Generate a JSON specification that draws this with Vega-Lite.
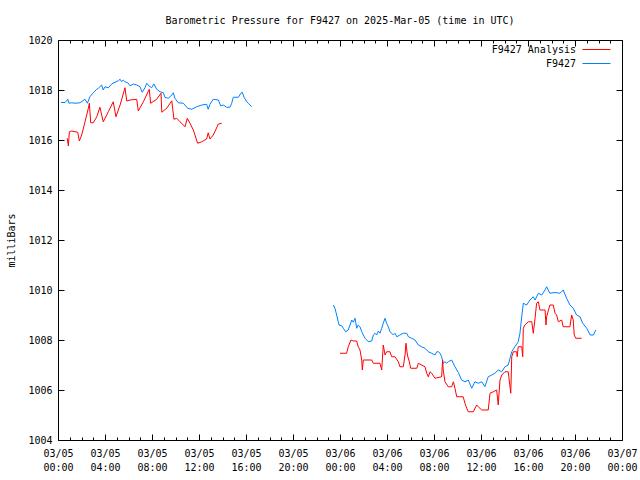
{
"$schema":"https://vega.github.io/schema/vega-lite/v6.json",
"autosize":{"type":"none"},
"width":564,"height":400,
"padding":{"left":58,"top":40,"right":18,"bottom":40},
"background":"white",
"config":{"view":{"stroke":"black","strokeWidth":1},"font":"DejaVu Sans Mono","axis":{"grid":false,"domain":false,"labelFont":"DejaVu Sans Mono","labelFontSize":10,"labelColor":"black","tickColor":"black","tickOpacity":1,"tickWidth":1,"titleFont":"DejaVu Sans Mono","titleFontSize":10,"titleFontWeight":"normal","titleColor":"black"}},
"title":{"text":"Barometric Pressure for F9427 on 2025-Mar-05 (time in UTC)","font":"DejaVu Sans Mono","fontSize":10,"fontWeight":"normal","color":"black","anchor":"middle","offset":9},
"data":{"values":[
{"t":"2025-03-05T00:15Z","p":1017.5,"s":"F9427","g":"a"},
{"t":"2025-03-05T00:36Z","p":1017.5,"s":"F9427","g":"a"},
{"t":"2025-03-05T00:50Z","p":1017.63,"s":"F9427","g":"a"},
{"t":"2025-03-05T00:56Z","p":1017.47,"s":"F9427","g":"a"},
{"t":"2025-03-05T01:10Z","p":1017.49,"s":"F9427","g":"a"},
{"t":"2025-03-05T01:27Z","p":1017.47,"s":"F9427","g":"a"},
{"t":"2025-03-05T01:52Z","p":1017.49,"s":"F9427","g":"a"},
{"t":"2025-03-05T02:18Z","p":1017.63,"s":"F9427","g":"a"},
{"t":"2025-03-05T02:30Z","p":1017.47,"s":"F9427","g":"a"},
{"t":"2025-03-05T02:43Z","p":1017.73,"s":"F9427","g":"a"},
{"t":"2025-03-05T03:00Z","p":1017.89,"s":"F9427","g":"a"},
{"t":"2025-03-05T03:18Z","p":1018.03,"s":"F9427","g":"a"},
{"t":"2025-03-05T03:26Z","p":1018.07,"s":"F9427","g":"a"},
{"t":"2025-03-05T03:43Z","p":1018.2,"s":"F9427","g":"a"},
{"t":"2025-03-05T03:51Z","p":1018.0,"s":"F9427","g":"a"},
{"t":"2025-03-05T04:00Z","p":1018.13,"s":"F9427","g":"a"},
{"t":"2025-03-05T04:17Z","p":1018.09,"s":"F9427","g":"a"},
{"t":"2025-03-05T04:34Z","p":1018.24,"s":"F9427","g":"a"},
{"t":"2025-03-05T04:51Z","p":1018.31,"s":"F9427","g":"a"},
{"t":"2025-03-05T05:08Z","p":1018.37,"s":"F9427","g":"a"},
{"t":"2025-03-05T05:17Z","p":1018.43,"s":"F9427","g":"a"},
{"t":"2025-03-05T05:25Z","p":1018.33,"s":"F9427","g":"a"},
{"t":"2025-03-05T05:33Z","p":1018.4,"s":"F9427","g":"a"},
{"t":"2025-03-05T05:42Z","p":1018.33,"s":"F9427","g":"a"},
{"t":"2025-03-05T05:56Z","p":1018.29,"s":"F9427","g":"a"},
{"t":"2025-03-05T06:08Z","p":1018.17,"s":"F9427","g":"a"},
{"t":"2025-03-05T06:25Z","p":1018.24,"s":"F9427","g":"a"},
{"t":"2025-03-05T06:42Z","p":1018.2,"s":"F9427","g":"a"},
{"t":"2025-03-05T06:59Z","p":1018.13,"s":"F9427","g":"a"},
{"t":"2025-03-05T07:10Z","p":1017.91,"s":"F9427","g":"a"},
{"t":"2025-03-05T07:24Z","p":1018.09,"s":"F9427","g":"a"},
{"t":"2025-03-05T07:33Z","p":1018.27,"s":"F9427","g":"a"},
{"t":"2025-03-05T07:45Z","p":1018.16,"s":"F9427","g":"a"},
{"t":"2025-03-05T07:58Z","p":1018.09,"s":"F9427","g":"a"},
{"t":"2025-03-05T08:10Z","p":1018.24,"s":"F9427","g":"a"},
{"t":"2025-03-05T08:24Z","p":1018.03,"s":"F9427","g":"a"},
{"t":"2025-03-05T08:41Z","p":1017.93,"s":"F9427","g":"a"},
{"t":"2025-03-05T08:58Z","p":1017.89,"s":"F9427","g":"a"},
{"t":"2025-03-05T09:06Z","p":1017.71,"s":"F9427","g":"a"},
{"t":"2025-03-05T09:23Z","p":1017.67,"s":"F9427","g":"a"},
{"t":"2025-03-05T09:32Z","p":1017.73,"s":"F9427","g":"a"},
{"t":"2025-03-05T09:41Z","p":1017.8,"s":"F9427","g":"a"},
{"t":"2025-03-05T09:49Z","p":1017.89,"s":"F9427","g":"a"},
{"t":"2025-03-05T09:57Z","p":1017.67,"s":"F9427","g":"a"},
{"t":"2025-03-05T10:14Z","p":1017.49,"s":"F9427","g":"a"},
{"t":"2025-03-05T10:40Z","p":1017.47,"s":"F9427","g":"a"},
{"t":"2025-03-05T11:02Z","p":1017.27,"s":"F9427","g":"a"},
{"t":"2025-03-05T11:23Z","p":1017.23,"s":"F9427","g":"a"},
{"t":"2025-03-05T11:48Z","p":1017.33,"s":"F9427","g":"a"},
{"t":"2025-03-05T12:14Z","p":1017.4,"s":"F9427","g":"a"},
{"t":"2025-03-05T12:39Z","p":1017.43,"s":"F9427","g":"a"},
{"t":"2025-03-05T12:47Z","p":1017.23,"s":"F9427","g":"a"},
{"t":"2025-03-05T12:56Z","p":1017.43,"s":"F9427","g":"a"},
{"t":"2025-03-05T13:13Z","p":1017.63,"s":"F9427","g":"a"},
{"t":"2025-03-05T13:39Z","p":1017.6,"s":"F9427","g":"a"},
{"t":"2025-03-05T13:51Z","p":1017.36,"s":"F9427","g":"a"},
{"t":"2025-03-05T14:04Z","p":1017.4,"s":"F9427","g":"a"},
{"t":"2025-03-05T14:21Z","p":1017.31,"s":"F9427","g":"a"},
{"t":"2025-03-05T14:38Z","p":1017.31,"s":"F9427","g":"a"},
{"t":"2025-03-05T14:47Z","p":1017.47,"s":"F9427","g":"a"},
{"t":"2025-03-05T14:55Z","p":1017.71,"s":"F9427","g":"a"},
{"t":"2025-03-05T15:21Z","p":1017.71,"s":"F9427","g":"a"},
{"t":"2025-03-05T15:34Z","p":1017.87,"s":"F9427","g":"a"},
{"t":"2025-03-05T15:41Z","p":1017.91,"s":"F9427","g":"a"},
{"t":"2025-03-05T15:50Z","p":1017.71,"s":"F9427","g":"a"},
{"t":"2025-03-05T16:04Z","p":1017.53,"s":"F9427","g":"a"},
{"t":"2025-03-05T16:12Z","p":1017.47,"s":"F9427","g":"a"},
{"t":"2025-03-05T16:29Z","p":1017.33,"s":"F9427","g":"a"},
{"t":"2025-03-05T00:47Z","p":1016.07,"s":"F9427 Analysis","g":"a"},
{"t":"2025-03-05T00:53Z","p":1015.76,"s":"F9427 Analysis","g":"a"},
{"t":"2025-03-05T00:58Z","p":1016.33,"s":"F9427 Analysis","g":"a"},
{"t":"2025-03-05T01:10Z","p":1016.36,"s":"F9427 Analysis","g":"a"},
{"t":"2025-03-05T01:27Z","p":1016.33,"s":"F9427 Analysis","g":"a"},
{"t":"2025-03-05T01:41Z","p":1016.31,"s":"F9427 Analysis","g":"a"},
{"t":"2025-03-05T01:49Z","p":1015.96,"s":"F9427 Analysis","g":"a"},
{"t":"2025-03-05T02:01Z","p":1016.2,"s":"F9427 Analysis","g":"a"},
{"t":"2025-03-05T02:18Z","p":1016.73,"s":"F9427 Analysis","g":"a"},
{"t":"2025-03-05T02:35Z","p":1017.27,"s":"F9427 Analysis","g":"a"},
{"t":"2025-03-05T02:40Z","p":1017.47,"s":"F9427 Analysis","g":"a"},
{"t":"2025-03-05T02:47Z","p":1016.69,"s":"F9427 Analysis","g":"a"},
{"t":"2025-03-05T03:00Z","p":1016.69,"s":"F9427 Analysis","g":"a"},
{"t":"2025-03-05T03:18Z","p":1016.93,"s":"F9427 Analysis","g":"a"},
{"t":"2025-03-05T03:34Z","p":1017.31,"s":"F9427 Analysis","g":"a"},
{"t":"2025-03-05T03:51Z","p":1016.73,"s":"F9427 Analysis","g":"a"},
{"t":"2025-03-05T04:17Z","p":1017.13,"s":"F9427 Analysis","g":"a"},
{"t":"2025-03-05T04:42Z","p":1017.53,"s":"F9427 Analysis","g":"a"},
{"t":"2025-03-05T04:56Z","p":1016.93,"s":"F9427 Analysis","g":"a"},
{"t":"2025-03-05T05:17Z","p":1017.4,"s":"F9427 Analysis","g":"a"},
{"t":"2025-03-05T05:42Z","p":1018.09,"s":"F9427 Analysis","g":"a"},
{"t":"2025-03-05T05:51Z","p":1017.56,"s":"F9427 Analysis","g":"a"},
{"t":"2025-03-05T06:08Z","p":1017.6,"s":"F9427 Analysis","g":"a"},
{"t":"2025-03-05T06:42Z","p":1017.63,"s":"F9427 Analysis","g":"a"},
{"t":"2025-03-05T06:50Z","p":1017.16,"s":"F9427 Analysis","g":"a"},
{"t":"2025-03-05T07:16Z","p":1017.53,"s":"F9427 Analysis","g":"a"},
{"t":"2025-03-05T07:46Z","p":1018.03,"s":"F9427 Analysis","g":"a"},
{"t":"2025-03-05T07:53Z","p":1017.47,"s":"F9427 Analysis","g":"a"},
{"t":"2025-03-05T08:24Z","p":1017.63,"s":"F9427 Analysis","g":"a"},
{"t":"2025-03-05T08:46Z","p":1017.87,"s":"F9427 Analysis","g":"a"},
{"t":"2025-03-05T08:50Z","p":1017.11,"s":"F9427 Analysis","g":"a"},
{"t":"2025-03-05T09:15Z","p":1017.27,"s":"F9427 Analysis","g":"a"},
{"t":"2025-03-05T09:41Z","p":1017.57,"s":"F9427 Analysis","g":"a"},
{"t":"2025-03-05T09:52Z","p":1016.83,"s":"F9427 Analysis","g":"a"},
{"t":"2025-03-05T10:06Z","p":1016.87,"s":"F9427 Analysis","g":"a"},
{"t":"2025-03-05T10:23Z","p":1016.73,"s":"F9427 Analysis","g":"a"},
{"t":"2025-03-05T10:49Z","p":1016.53,"s":"F9427 Analysis","g":"a"},
{"t":"2025-03-05T11:00Z","p":1016.87,"s":"F9427 Analysis","g":"a"},
{"t":"2025-03-05T11:14Z","p":1016.67,"s":"F9427 Analysis","g":"a"},
{"t":"2025-03-05T11:31Z","p":1016.4,"s":"F9427 Analysis","g":"a"},
{"t":"2025-03-05T11:53Z","p":1015.87,"s":"F9427 Analysis","g":"a"},
{"t":"2025-03-05T12:14Z","p":1015.93,"s":"F9427 Analysis","g":"a"},
{"t":"2025-03-05T12:39Z","p":1016.04,"s":"F9427 Analysis","g":"a"},
{"t":"2025-03-05T12:47Z","p":1016.29,"s":"F9427 Analysis","g":"a"},
{"t":"2025-03-05T12:56Z","p":1016.04,"s":"F9427 Analysis","g":"a"},
{"t":"2025-03-05T13:13Z","p":1016.2,"s":"F9427 Analysis","g":"a"},
{"t":"2025-03-05T13:39Z","p":1016.64,"s":"F9427 Analysis","g":"a"},
{"t":"2025-03-05T13:56Z","p":1016.67,"s":"F9427 Analysis","g":"a"},
{"t":"2025-03-05T23:26Z","p":1009.4,"s":"F9427","g":"b"},
{"t":"2025-03-05T23:34Z","p":1009.27,"s":"F9427","g":"b"},
{"t":"2025-03-05T23:43Z","p":1009.0,"s":"F9427","g":"b"},
{"t":"2025-03-05T23:51Z","p":1008.73,"s":"F9427","g":"b"},
{"t":"2025-03-05T23:55Z","p":1008.6,"s":"F9427","g":"b"},
{"t":"2025-03-06T00:09Z","p":1008.57,"s":"F9427","g":"b"},
{"t":"2025-03-06T00:17Z","p":1008.47,"s":"F9427","g":"b"},
{"t":"2025-03-06T00:29Z","p":1008.33,"s":"F9427","g":"b"},
{"t":"2025-03-06T00:42Z","p":1008.4,"s":"F9427","g":"b"},
{"t":"2025-03-06T00:51Z","p":1008.6,"s":"F9427","g":"b"},
{"t":"2025-03-06T01:00Z","p":1008.8,"s":"F9427","g":"b"},
{"t":"2025-03-06T01:08Z","p":1008.71,"s":"F9427","g":"b"},
{"t":"2025-03-06T01:17Z","p":1008.87,"s":"F9427","g":"b"},
{"t":"2025-03-06T01:25Z","p":1008.47,"s":"F9427","g":"b"},
{"t":"2025-03-06T01:33Z","p":1008.6,"s":"F9427","g":"b"},
{"t":"2025-03-06T01:42Z","p":1008.53,"s":"F9427","g":"b"},
{"t":"2025-03-06T01:51Z","p":1008.33,"s":"F9427","g":"b"},
{"t":"2025-03-06T01:59Z","p":1008.2,"s":"F9427","g":"b"},
{"t":"2025-03-06T02:08Z","p":1008.07,"s":"F9427","g":"b"},
{"t":"2025-03-06T02:25Z","p":1007.93,"s":"F9427","g":"b"},
{"t":"2025-03-06T02:42Z","p":1007.96,"s":"F9427","g":"b"},
{"t":"2025-03-06T02:50Z","p":1008.2,"s":"F9427","g":"b"},
{"t":"2025-03-06T02:59Z","p":1008.27,"s":"F9427","g":"b"},
{"t":"2025-03-06T03:07Z","p":1008.2,"s":"F9427","g":"b"},
{"t":"2025-03-06T03:16Z","p":1008.36,"s":"F9427","g":"b"},
{"t":"2025-03-06T03:24Z","p":1008.27,"s":"F9427","g":"b"},
{"t":"2025-03-06T03:33Z","p":1008.47,"s":"F9427","g":"b"},
{"t":"2025-03-06T03:41Z","p":1008.67,"s":"F9427","g":"b"},
{"t":"2025-03-06T03:50Z","p":1008.87,"s":"F9427","g":"b"},
{"t":"2025-03-06T03:58Z","p":1008.67,"s":"F9427","g":"b"},
{"t":"2025-03-06T04:07Z","p":1008.53,"s":"F9427","g":"b"},
{"t":"2025-03-06T04:15Z","p":1008.33,"s":"F9427","g":"b"},
{"t":"2025-03-06T04:24Z","p":1008.27,"s":"F9427","g":"b"},
{"t":"2025-03-06T04:32Z","p":1008.2,"s":"F9427","g":"b"},
{"t":"2025-03-06T04:41Z","p":1008.27,"s":"F9427","g":"b"},
{"t":"2025-03-06T04:50Z","p":1008.13,"s":"F9427","g":"b"},
{"t":"2025-03-06T05:06Z","p":1008.2,"s":"F9427","g":"b"},
{"t":"2025-03-06T05:23Z","p":1008.27,"s":"F9427","g":"b"},
{"t":"2025-03-06T05:41Z","p":1008.27,"s":"F9427","g":"b"},
{"t":"2025-03-06T05:49Z","p":1008.13,"s":"F9427","g":"b"},
{"t":"2025-03-06T06:06Z","p":1008.07,"s":"F9427","g":"b"},
{"t":"2025-03-06T06:23Z","p":1008.0,"s":"F9427","g":"b"},
{"t":"2025-03-06T06:40Z","p":1007.8,"s":"F9427","g":"b"},
{"t":"2025-03-06T06:57Z","p":1007.73,"s":"F9427","g":"b"},
{"t":"2025-03-06T07:14Z","p":1007.67,"s":"F9427","g":"b"},
{"t":"2025-03-06T07:31Z","p":1007.53,"s":"F9427","g":"b"},
{"t":"2025-03-06T07:48Z","p":1007.47,"s":"F9427","g":"b"},
{"t":"2025-03-06T08:05Z","p":1007.4,"s":"F9427","g":"b"},
{"t":"2025-03-06T08:14Z","p":1007.53,"s":"F9427","g":"b"},
{"t":"2025-03-06T08:22Z","p":1007.53,"s":"F9427","g":"b"},
{"t":"2025-03-06T08:31Z","p":1007.47,"s":"F9427","g":"b"},
{"t":"2025-03-06T08:39Z","p":1007.33,"s":"F9427","g":"b"},
{"t":"2025-03-06T08:47Z","p":1007.07,"s":"F9427","g":"b"},
{"t":"2025-03-06T08:56Z","p":1007.13,"s":"F9427","g":"b"},
{"t":"2025-03-06T09:05Z","p":1007.07,"s":"F9427","g":"b"},
{"t":"2025-03-06T09:13Z","p":1007.13,"s":"F9427","g":"b"},
{"t":"2025-03-06T09:30Z","p":1007.2,"s":"F9427","g":"b"},
{"t":"2025-03-06T09:47Z","p":1006.93,"s":"F9427","g":"b"},
{"t":"2025-03-06T10:04Z","p":1006.7,"s":"F9427","g":"b"},
{"t":"2025-03-06T10:21Z","p":1006.4,"s":"F9427","g":"b"},
{"t":"2025-03-06T10:38Z","p":1006.33,"s":"F9427","g":"b"},
{"t":"2025-03-06T10:55Z","p":1006.4,"s":"F9427","g":"b"},
{"t":"2025-03-06T11:13Z","p":1006.07,"s":"F9427","g":"b"},
{"t":"2025-03-06T11:29Z","p":1006.33,"s":"F9427","g":"b"},
{"t":"2025-03-06T11:46Z","p":1006.27,"s":"F9427","g":"b"},
{"t":"2025-03-06T12:04Z","p":1006.33,"s":"F9427","g":"b"},
{"t":"2025-03-06T12:20Z","p":1006.13,"s":"F9427","g":"b"},
{"t":"2025-03-06T12:37Z","p":1006.53,"s":"F9427","g":"b"},
{"t":"2025-03-06T12:55Z","p":1006.6,"s":"F9427","g":"b"},
{"t":"2025-03-06T13:11Z","p":1006.67,"s":"F9427","g":"b"},
{"t":"2025-03-06T13:28Z","p":1006.8,"s":"F9427","g":"b"},
{"t":"2025-03-06T13:46Z","p":1006.73,"s":"F9427","g":"b"},
{"t":"2025-03-06T14:02Z","p":1006.93,"s":"F9427","g":"b"},
{"t":"2025-03-06T14:19Z","p":1007.0,"s":"F9427","g":"b"},
{"t":"2025-03-06T14:37Z","p":1007.53,"s":"F9427","g":"b"},
{"t":"2025-03-06T14:53Z","p":1007.73,"s":"F9427","g":"b"},
{"t":"2025-03-06T15:10Z","p":1007.93,"s":"F9427","g":"b"},
{"t":"2025-03-06T15:19Z","p":1008.27,"s":"F9427","g":"b"},
{"t":"2025-03-06T15:28Z","p":1008.93,"s":"F9427","g":"b"},
{"t":"2025-03-06T15:36Z","p":1009.47,"s":"F9427","g":"b"},
{"t":"2025-03-06T15:53Z","p":1009.4,"s":"F9427","g":"b"},
{"t":"2025-03-06T16:10Z","p":1009.6,"s":"F9427","g":"b"},
{"t":"2025-03-06T16:27Z","p":1009.73,"s":"F9427","g":"b"},
{"t":"2025-03-06T16:36Z","p":1009.6,"s":"F9427","g":"b"},
{"t":"2025-03-06T16:53Z","p":1009.87,"s":"F9427","g":"b"},
{"t":"2025-03-06T17:10Z","p":1009.8,"s":"F9427","g":"b"},
{"t":"2025-03-06T17:27Z","p":1010.0,"s":"F9427","g":"b"},
{"t":"2025-03-06T17:35Z","p":1010.13,"s":"F9427","g":"b"},
{"t":"2025-03-06T17:52Z","p":1009.87,"s":"F9427","g":"b"},
{"t":"2025-03-06T18:18Z","p":1009.9,"s":"F9427","g":"b"},
{"t":"2025-03-06T18:43Z","p":1009.87,"s":"F9427","g":"b"},
{"t":"2025-03-06T19:00Z","p":1010.0,"s":"F9427","g":"b"},
{"t":"2025-03-06T19:17Z","p":1009.67,"s":"F9427","g":"b"},
{"t":"2025-03-06T19:34Z","p":1009.4,"s":"F9427","g":"b"},
{"t":"2025-03-06T19:51Z","p":1009.27,"s":"F9427","g":"b"},
{"t":"2025-03-06T20:08Z","p":1009.0,"s":"F9427","g":"b"},
{"t":"2025-03-06T20:26Z","p":1008.93,"s":"F9427","g":"b"},
{"t":"2025-03-06T20:39Z","p":1008.67,"s":"F9427","g":"b"},
{"t":"2025-03-06T21:00Z","p":1008.47,"s":"F9427","g":"b"},
{"t":"2025-03-06T21:17Z","p":1008.2,"s":"F9427","g":"b"},
{"t":"2025-03-06T21:34Z","p":1008.2,"s":"F9427","g":"b"},
{"t":"2025-03-06T21:46Z","p":1008.4,"s":"F9427","g":"b"},
{"t":"2025-03-06T00:00Z","p":1007.47,"s":"F9427 Analysis","g":"b"},
{"t":"2025-03-06T00:34Z","p":1007.47,"s":"F9427 Analysis","g":"b"},
{"t":"2025-03-06T00:42Z","p":1007.73,"s":"F9427 Analysis","g":"b"},
{"t":"2025-03-06T00:56Z","p":1008.0,"s":"F9427 Analysis","g":"b"},
{"t":"2025-03-06T01:08Z","p":1007.96,"s":"F9427 Analysis","g":"b"},
{"t":"2025-03-06T01:25Z","p":1007.96,"s":"F9427 Analysis","g":"b"},
{"t":"2025-03-06T01:33Z","p":1007.73,"s":"F9427 Analysis","g":"b"},
{"t":"2025-03-06T01:42Z","p":1007.6,"s":"F9427 Analysis","g":"b"},
{"t":"2025-03-06T01:51Z","p":1007.2,"s":"F9427 Analysis","g":"b"},
{"t":"2025-03-06T01:54Z","p":1006.8,"s":"F9427 Analysis","g":"b"},
{"t":"2025-03-06T01:59Z","p":1007.2,"s":"F9427 Analysis","g":"b"},
{"t":"2025-03-06T02:42Z","p":1007.2,"s":"F9427 Analysis","g":"b"},
{"t":"2025-03-06T02:50Z","p":1007.07,"s":"F9427 Analysis","g":"b"},
{"t":"2025-03-06T03:24Z","p":1007.07,"s":"F9427 Analysis","g":"b"},
{"t":"2025-03-06T03:33Z","p":1006.8,"s":"F9427 Analysis","g":"b"},
{"t":"2025-03-06T03:41Z","p":1007.8,"s":"F9427 Analysis","g":"b"},
{"t":"2025-03-06T03:50Z","p":1007.4,"s":"F9427 Analysis","g":"b"},
{"t":"2025-03-06T03:58Z","p":1007.53,"s":"F9427 Analysis","g":"b"},
{"t":"2025-03-06T04:15Z","p":1007.53,"s":"F9427 Analysis","g":"b"},
{"t":"2025-03-06T04:24Z","p":1007.33,"s":"F9427 Analysis","g":"b"},
{"t":"2025-03-06T04:41Z","p":1007.33,"s":"F9427 Analysis","g":"b"},
{"t":"2025-03-06T04:58Z","p":1007.13,"s":"F9427 Analysis","g":"b"},
{"t":"2025-03-06T05:06Z","p":1006.93,"s":"F9427 Analysis","g":"b"},
{"t":"2025-03-06T05:23Z","p":1006.93,"s":"F9427 Analysis","g":"b"},
{"t":"2025-03-06T05:32Z","p":1007.4,"s":"F9427 Analysis","g":"b"},
{"t":"2025-03-06T05:37Z","p":1007.87,"s":"F9427 Analysis","g":"b"},
{"t":"2025-03-06T05:44Z","p":1007.4,"s":"F9427 Analysis","g":"b"},
{"t":"2025-03-06T05:54Z","p":1007.13,"s":"F9427 Analysis","g":"b"},
{"t":"2025-03-06T06:01Z","p":1006.87,"s":"F9427 Analysis","g":"b"},
{"t":"2025-03-06T06:32Z","p":1006.87,"s":"F9427 Analysis","g":"b"},
{"t":"2025-03-06T06:40Z","p":1007.07,"s":"F9427 Analysis","g":"b"},
{"t":"2025-03-06T07:14Z","p":1006.93,"s":"F9427 Analysis","g":"b"},
{"t":"2025-03-06T07:23Z","p":1006.67,"s":"F9427 Analysis","g":"b"},
{"t":"2025-03-06T07:31Z","p":1006.53,"s":"F9427 Analysis","g":"b"},
{"t":"2025-03-06T07:40Z","p":1006.73,"s":"F9427 Analysis","g":"b"},
{"t":"2025-03-06T07:48Z","p":1006.67,"s":"F9427 Analysis","g":"b"},
{"t":"2025-03-06T08:05Z","p":1006.47,"s":"F9427 Analysis","g":"b"},
{"t":"2025-03-06T08:39Z","p":1006.53,"s":"F9427 Analysis","g":"b"},
{"t":"2025-03-06T08:44Z","p":1007.2,"s":"F9427 Analysis","g":"b"},
{"t":"2025-03-06T08:47Z","p":1006.8,"s":"F9427 Analysis","g":"b"},
{"t":"2025-03-06T08:56Z","p":1006.33,"s":"F9427 Analysis","g":"b"},
{"t":"2025-03-06T09:13Z","p":1006.13,"s":"F9427 Analysis","g":"b"},
{"t":"2025-03-06T09:30Z","p":1006.13,"s":"F9427 Analysis","g":"b"},
{"t":"2025-03-06T09:39Z","p":1006.33,"s":"F9427 Analysis","g":"b"},
{"t":"2025-03-06T09:47Z","p":1006.07,"s":"F9427 Analysis","g":"b"},
{"t":"2025-03-06T09:56Z","p":1005.73,"s":"F9427 Analysis","g":"b"},
{"t":"2025-03-06T10:29Z","p":1005.73,"s":"F9427 Analysis","g":"b"},
{"t":"2025-03-06T10:38Z","p":1005.47,"s":"F9427 Analysis","g":"b"},
{"t":"2025-03-06T10:47Z","p":1005.27,"s":"F9427 Analysis","g":"b"},
{"t":"2025-03-06T10:55Z","p":1005.13,"s":"F9427 Analysis","g":"b"},
{"t":"2025-03-06T11:21Z","p":1005.13,"s":"F9427 Analysis","g":"b"},
{"t":"2025-03-06T11:38Z","p":1005.4,"s":"F9427 Analysis","g":"b"},
{"t":"2025-03-06T11:46Z","p":1005.33,"s":"F9427 Analysis","g":"b"},
{"t":"2025-03-06T12:04Z","p":1005.2,"s":"F9427 Analysis","g":"b"},
{"t":"2025-03-06T12:37Z","p":1005.2,"s":"F9427 Analysis","g":"b"},
{"t":"2025-03-06T12:46Z","p":1005.87,"s":"F9427 Analysis","g":"b"},
{"t":"2025-03-06T13:03Z","p":1005.93,"s":"F9427 Analysis","g":"b"},
{"t":"2025-03-06T13:20Z","p":1006.0,"s":"F9427 Analysis","g":"b"},
{"t":"2025-03-06T13:28Z","p":1005.4,"s":"F9427 Analysis","g":"b"},
{"t":"2025-03-06T13:37Z","p":1006.4,"s":"F9427 Analysis","g":"b"},
{"t":"2025-03-06T13:46Z","p":1006.6,"s":"F9427 Analysis","g":"b"},
{"t":"2025-03-06T14:02Z","p":1006.73,"s":"F9427 Analysis","g":"b"},
{"t":"2025-03-06T14:19Z","p":1006.73,"s":"F9427 Analysis","g":"b"},
{"t":"2025-03-06T14:32Z","p":1005.87,"s":"F9427 Analysis","g":"b"},
{"t":"2025-03-06T14:37Z","p":1007.33,"s":"F9427 Analysis","g":"b"},
{"t":"2025-03-06T14:45Z","p":1007.53,"s":"F9427 Analysis","g":"b"},
{"t":"2025-03-06T15:02Z","p":1007.53,"s":"F9427 Analysis","g":"b"},
{"t":"2025-03-06T15:05Z","p":1007.33,"s":"F9427 Analysis","g":"b"},
{"t":"2025-03-06T15:10Z","p":1007.73,"s":"F9427 Analysis","g":"b"},
{"t":"2025-03-06T15:28Z","p":1007.73,"s":"F9427 Analysis","g":"b"},
{"t":"2025-03-06T15:33Z","p":1007.33,"s":"F9427 Analysis","g":"b"},
{"t":"2025-03-06T15:36Z","p":1008.47,"s":"F9427 Analysis","g":"b"},
{"t":"2025-03-06T15:44Z","p":1008.6,"s":"F9427 Analysis","g":"b"},
{"t":"2025-03-06T16:02Z","p":1008.73,"s":"F9427 Analysis","g":"b"},
{"t":"2025-03-06T16:19Z","p":1008.73,"s":"F9427 Analysis","g":"b"},
{"t":"2025-03-06T16:27Z","p":1008.27,"s":"F9427 Analysis","g":"b"},
{"t":"2025-03-06T16:36Z","p":1008.87,"s":"F9427 Analysis","g":"b"},
{"t":"2025-03-06T16:44Z","p":1009.47,"s":"F9427 Analysis","g":"b"},
{"t":"2025-03-06T16:53Z","p":1009.53,"s":"F9427 Analysis","g":"b"},
{"t":"2025-03-06T17:01Z","p":1009.2,"s":"F9427 Analysis","g":"b"},
{"t":"2025-03-06T17:27Z","p":1009.2,"s":"F9427 Analysis","g":"b"},
{"t":"2025-03-06T17:32Z","p":1008.6,"s":"F9427 Analysis","g":"b"},
{"t":"2025-03-06T17:35Z","p":1008.93,"s":"F9427 Analysis","g":"b"},
{"t":"2025-03-06T17:52Z","p":1009.4,"s":"F9427 Analysis","g":"b"},
{"t":"2025-03-06T18:09Z","p":1009.4,"s":"F9427 Analysis","g":"b"},
{"t":"2025-03-06T18:18Z","p":1009.07,"s":"F9427 Analysis","g":"b"},
{"t":"2025-03-06T18:26Z","p":1009.0,"s":"F9427 Analysis","g":"b"},
{"t":"2025-03-06T18:35Z","p":1008.73,"s":"F9427 Analysis","g":"b"},
{"t":"2025-03-06T18:52Z","p":1008.8,"s":"F9427 Analysis","g":"b"},
{"t":"2025-03-06T19:00Z","p":1008.53,"s":"F9427 Analysis","g":"b"},
{"t":"2025-03-06T19:34Z","p":1008.53,"s":"F9427 Analysis","g":"b"},
{"t":"2025-03-06T19:43Z","p":1009.0,"s":"F9427 Analysis","g":"b"},
{"t":"2025-03-06T19:51Z","p":1008.8,"s":"F9427 Analysis","g":"b"},
{"t":"2025-03-06T19:56Z","p":1008.2,"s":"F9427 Analysis","g":"b"},
{"t":"2025-03-06T20:04Z","p":1008.07,"s":"F9427 Analysis","g":"b"},
{"t":"2025-03-06T20:34Z","p":1008.07,"s":"F9427 Analysis","g":"b"}
]},
"resolve":{"axis":{"x":"independent","y":"independent"}},
"layer":[
{"mark":{"type":"line","strokeWidth":1},
 "encoding":{
  "x":{"field":"t","type":"temporal","scale":{"type":"utc","domain":[{"year":2025,"month":3,"date":5,"utc":true},{"year":2025,"month":3,"date":7,"utc":true}],"nice":false},
       "axis":{"orient":"bottom","ticks":true,"tickSize":6,"offset":-6,"zindex":3,"tickColor":"black","labelPadding":8,"values":[{"year":2025,"month":3,"date":5,"hours":0,"utc":true},{"year":2025,"month":3,"date":5,"hours":4,"utc":true},{"year":2025,"month":3,"date":5,"hours":8,"utc":true},{"year":2025,"month":3,"date":5,"hours":12,"utc":true},{"year":2025,"month":3,"date":5,"hours":16,"utc":true},{"year":2025,"month":3,"date":5,"hours":20,"utc":true},{"year":2025,"month":3,"date":6,"hours":0,"utc":true},{"year":2025,"month":3,"date":6,"hours":4,"utc":true},{"year":2025,"month":3,"date":6,"hours":8,"utc":true},{"year":2025,"month":3,"date":6,"hours":12,"utc":true},{"year":2025,"month":3,"date":6,"hours":16,"utc":true},{"year":2025,"month":3,"date":6,"hours":20,"utc":true},{"year":2025,"month":3,"date":7,"hours":0,"utc":true}],"labelExpr":"[utcFormat(datum.value,'%m/%d'), utcFormat(datum.value,'%H:%M')]","labelLineHeight":14,"labelFlush":false,"labelOverlap":false,"title":null}},
  "y":{"field":"p","type":"quantitative","scale":{"domain":[1004,1020],"nice":false,"zero":false},
       "axis":{"orient":"left","ticks":true,"tickSize":6,"offset":-6,"zindex":3,"tickColor":"black","labelPadding":6,"format":"d","values":[1004,1006,1008,1010,1012,1014,1016,1018,1020],"title":"milliBars","titleAngle":-90,"titleX":-53,"titleY":200,"titleAlign":"center","titleBaseline":"middle"}},
  "color":{"field":"s","type":"nominal","scale":{"domain":["F9427 Analysis","F9427"],"range":["#ff0000","#0080ff"]},
       "legend":{"orient":"none","legendX":533,"legendY":4,"title":null,"symbolType":"M-2.8,0H2.8","symbolSize":100,"symbolStrokeWidth":1,"labelAlign":"right","labelOffset":-26,"labelFont":"DejaVu Sans Mono","labelFontSize":10,"labelColor":"black","rowPadding":3,"padding":0}},
  "detail":{"field":"g","type":"nominal"}
 }},
{"mark":{"type":"point","opacity":0},
 "encoding":{
  "x":{"field":"t","type":"temporal","axis":{"orient":"top","labels":false,"ticks":true,"tickSize":6,"offset":-6,"zindex":3,"tickColor":"black","values":[{"year":2025,"month":3,"date":5,"hours":0,"utc":true},{"year":2025,"month":3,"date":5,"hours":4,"utc":true},{"year":2025,"month":3,"date":5,"hours":8,"utc":true},{"year":2025,"month":3,"date":5,"hours":12,"utc":true},{"year":2025,"month":3,"date":5,"hours":16,"utc":true},{"year":2025,"month":3,"date":5,"hours":20,"utc":true},{"year":2025,"month":3,"date":6,"hours":0,"utc":true},{"year":2025,"month":3,"date":6,"hours":4,"utc":true},{"year":2025,"month":3,"date":6,"hours":8,"utc":true},{"year":2025,"month":3,"date":6,"hours":12,"utc":true},{"year":2025,"month":3,"date":6,"hours":16,"utc":true},{"year":2025,"month":3,"date":6,"hours":20,"utc":true},{"year":2025,"month":3,"date":7,"hours":0,"utc":true}],"title":null}},
  "y":{"field":"p","type":"quantitative","axis":{"orient":"right","labels":false,"ticks":true,"tickSize":6,"offset":-6,"zindex":3,"tickColor":"black","values":[1004,1006,1008,1010,1012,1014,1016,1018,1020],"title":null}}
 }},
{"mark":{"type":"point","opacity":0},
 "encoding":{
  "x":{"field":"t","type":"temporal","axis":{"orient":"bottom","labels":false,"ticks":true,"tickSize":3,"offset":-3,"zindex":3,"tickColor":"black","values":[{"year":2025,"month":3,"date":5,"hours":1,"utc":true},{"year":2025,"month":3,"date":5,"hours":2,"utc":true},{"year":2025,"month":3,"date":5,"hours":3,"utc":true},{"year":2025,"month":3,"date":5,"hours":5,"utc":true},{"year":2025,"month":3,"date":5,"hours":6,"utc":true},{"year":2025,"month":3,"date":5,"hours":7,"utc":true},{"year":2025,"month":3,"date":5,"hours":9,"utc":true},{"year":2025,"month":3,"date":5,"hours":10,"utc":true},{"year":2025,"month":3,"date":5,"hours":11,"utc":true},{"year":2025,"month":3,"date":5,"hours":13,"utc":true},{"year":2025,"month":3,"date":5,"hours":14,"utc":true},{"year":2025,"month":3,"date":5,"hours":15,"utc":true},{"year":2025,"month":3,"date":5,"hours":17,"utc":true},{"year":2025,"month":3,"date":5,"hours":18,"utc":true},{"year":2025,"month":3,"date":5,"hours":19,"utc":true},{"year":2025,"month":3,"date":5,"hours":21,"utc":true},{"year":2025,"month":3,"date":5,"hours":22,"utc":true},{"year":2025,"month":3,"date":5,"hours":23,"utc":true},{"year":2025,"month":3,"date":6,"hours":1,"utc":true},{"year":2025,"month":3,"date":6,"hours":2,"utc":true},{"year":2025,"month":3,"date":6,"hours":3,"utc":true},{"year":2025,"month":3,"date":6,"hours":5,"utc":true},{"year":2025,"month":3,"date":6,"hours":6,"utc":true},{"year":2025,"month":3,"date":6,"hours":7,"utc":true},{"year":2025,"month":3,"date":6,"hours":9,"utc":true},{"year":2025,"month":3,"date":6,"hours":10,"utc":true},{"year":2025,"month":3,"date":6,"hours":11,"utc":true},{"year":2025,"month":3,"date":6,"hours":13,"utc":true},{"year":2025,"month":3,"date":6,"hours":14,"utc":true},{"year":2025,"month":3,"date":6,"hours":15,"utc":true},{"year":2025,"month":3,"date":6,"hours":17,"utc":true},{"year":2025,"month":3,"date":6,"hours":18,"utc":true},{"year":2025,"month":3,"date":6,"hours":19,"utc":true},{"year":2025,"month":3,"date":6,"hours":21,"utc":true},{"year":2025,"month":3,"date":6,"hours":22,"utc":true},{"year":2025,"month":3,"date":6,"hours":23,"utc":true}],"title":null}}
 }},
{"mark":{"type":"point","opacity":0},
 "encoding":{
  "x":{"field":"t","type":"temporal","axis":{"orient":"top","labels":false,"ticks":true,"tickSize":3,"offset":-3,"zindex":3,"tickColor":"black","values":[{"year":2025,"month":3,"date":5,"hours":1,"utc":true},{"year":2025,"month":3,"date":5,"hours":2,"utc":true},{"year":2025,"month":3,"date":5,"hours":3,"utc":true},{"year":2025,"month":3,"date":5,"hours":5,"utc":true},{"year":2025,"month":3,"date":5,"hours":6,"utc":true},{"year":2025,"month":3,"date":5,"hours":7,"utc":true},{"year":2025,"month":3,"date":5,"hours":9,"utc":true},{"year":2025,"month":3,"date":5,"hours":10,"utc":true},{"year":2025,"month":3,"date":5,"hours":11,"utc":true},{"year":2025,"month":3,"date":5,"hours":13,"utc":true},{"year":2025,"month":3,"date":5,"hours":14,"utc":true},{"year":2025,"month":3,"date":5,"hours":15,"utc":true},{"year":2025,"month":3,"date":5,"hours":17,"utc":true},{"year":2025,"month":3,"date":5,"hours":18,"utc":true},{"year":2025,"month":3,"date":5,"hours":19,"utc":true},{"year":2025,"month":3,"date":5,"hours":21,"utc":true},{"year":2025,"month":3,"date":5,"hours":22,"utc":true},{"year":2025,"month":3,"date":5,"hours":23,"utc":true},{"year":2025,"month":3,"date":6,"hours":1,"utc":true},{"year":2025,"month":3,"date":6,"hours":2,"utc":true},{"year":2025,"month":3,"date":6,"hours":3,"utc":true},{"year":2025,"month":3,"date":6,"hours":5,"utc":true},{"year":2025,"month":3,"date":6,"hours":6,"utc":true},{"year":2025,"month":3,"date":6,"hours":7,"utc":true},{"year":2025,"month":3,"date":6,"hours":9,"utc":true},{"year":2025,"month":3,"date":6,"hours":10,"utc":true},{"year":2025,"month":3,"date":6,"hours":11,"utc":true},{"year":2025,"month":3,"date":6,"hours":13,"utc":true},{"year":2025,"month":3,"date":6,"hours":14,"utc":true},{"year":2025,"month":3,"date":6,"hours":15,"utc":true},{"year":2025,"month":3,"date":6,"hours":17,"utc":true},{"year":2025,"month":3,"date":6,"hours":18,"utc":true},{"year":2025,"month":3,"date":6,"hours":19,"utc":true},{"year":2025,"month":3,"date":6,"hours":21,"utc":true},{"year":2025,"month":3,"date":6,"hours":22,"utc":true},{"year":2025,"month":3,"date":6,"hours":23,"utc":true}],"title":null}}
 }}
]
}
